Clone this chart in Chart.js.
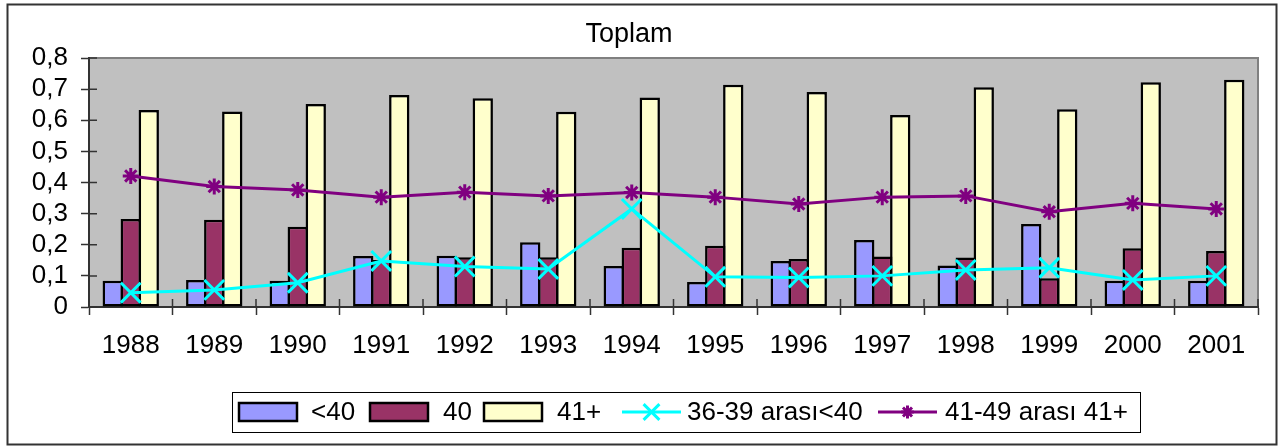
<!DOCTYPE html>
<html>
<head>
<meta charset="utf-8">
<script src="https://cdn.jsdelivr.net/npm/chart.js@4.4.0/dist/chart.umd.min.js"></script>
<style>
  html, body { margin: 0; padding: 0; background: #fff; }
  canvas { display: block; }
</style>
</head>
<body>
<canvas id="toplamChart" width="1285" height="448"></canvas>
<script>
const years = ['1988', '1989', '1990', '1991', '1992', '1993', '1994', '1995', '1996', '1997', '1998', '1999', '2000', '2001'];
const under40 = [0.084, 0.087, 0.084, 0.164, 0.165, 0.208, 0.132, 0.080, 0.148, 0.215, 0.133, 0.267, 0.084, 0.084];
const age40 = [0.283, 0.280, 0.258, 0.151, 0.160, 0.160, 0.190, 0.197, 0.154, 0.162, 0.159, 0.092, 0.189, 0.180];
const over41 = [0.633, 0.628, 0.652, 0.681, 0.671, 0.627, 0.673, 0.714, 0.691, 0.617, 0.706, 0.635, 0.722, 0.730];
const range3639 = [0.046, 0.055, 0.078, 0.148, 0.130, 0.122, 0.315, 0.097, 0.095, 0.100, 0.119, 0.126, 0.087, 0.100];
const range4149 = [0.421, 0.387, 0.376, 0.353, 0.369, 0.357, 0.368, 0.353, 0.331, 0.353, 0.357, 0.306, 0.333, 0.315];
const yTickLabels = ['0', '0,1', '0,2', '0,3', '0,4', '0,5', '0,6', '0,7', '0,8'];

const FONT = "'Liberation Sans', Arial, sans-serif";
const AXIS_COLOR = '#333';

// white page, outer frame and grey plot area
const frame = {
    id: 'frame',
    beforeDraw(chart) {
        const ctx = chart.ctx;
        const a = chart.chartArea;
        ctx.save();
        ctx.fillStyle = '#fff';
        ctx.fillRect(0, 0, chart.width, chart.height);
        ctx.strokeStyle = '#333';
        ctx.lineWidth = 2;
        ctx.strokeRect(7.5, 4.5, 1269, 440);
        ctx.fillStyle = '#c0c0c0';
        ctx.fillRect(a.left, a.top, a.right - a.left, a.bottom - a.top);
        ctx.strokeStyle = '#808080';
        ctx.beginPath();
        ctx.moveTo(a.left, a.top);
        ctx.lineTo(a.right, a.top);
        ctx.lineTo(a.right, a.bottom);
        ctx.stroke();
        ctx.restore();
    }
};

// Excel style ticks that cross the axis: draw the inner half
const crossTicks = {
    id: 'crossTicks',
    afterDatasetsDraw(chart) {
        const ctx = chart.ctx;
        const x = chart.scales.x;
        const y = chart.scales.y;
        const a = chart.chartArea;
        ctx.save();
        ctx.strokeStyle = AXIS_COLOR;
        ctx.lineWidth = 1.5;
        ctx.beginPath();
        const step = (x.right - x.left) / years.length;
        for (let i = 0; i <= years.length; i++) {
            const px = x.left + i * step;
            ctx.moveTo(px, a.bottom);
            ctx.lineTo(px, a.bottom - 8);
        }
        y.ticks.forEach((t, i) => {
            const py = y.getPixelForTick(i);
            ctx.moveTo(a.left, py);
            ctx.lineTo(a.left + 8, py);
        });
        ctx.stroke();
        ctx.restore();
    }
};

// boxed legend like the spreadsheet one
const boxLegend = {
    id: 'boxLegend',
    afterDraw(chart) {
        const ctx = chart.ctx;
        const itemX = [239, 370, 484, 622, 878];
        const textX = [311, 443, 557, 687, 945];
        const cy = 412;
        ctx.save();
        ctx.fillStyle = '#fff';
        ctx.fillRect(232, 392, 908, 41);
        ctx.strokeStyle = '#000';
        ctx.lineWidth = 1;
        ctx.strokeRect(232.5, 392.5, 908, 40);
        ctx.font = '26px ' + FONT;
        ctx.textBaseline = 'middle';
        ctx.textAlign = 'left';
        chart.data.datasets.forEach((ds, i) => {
            const x0 = itemX[i];
            if (ds.type === 'bar') {
                ctx.fillStyle = ds.backgroundColor;
                ctx.fillRect(x0, 403, 58, 18);
                ctx.strokeStyle = '#000';
                ctx.lineWidth = 2.5;
                ctx.strokeRect(x0, 403, 58, 18);
            } else {
                ctx.strokeStyle = ds.borderColor;
                ctx.lineWidth = ds.borderWidth;
                ctx.beginPath();
                ctx.moveTo(x0, cy);
                ctx.lineTo(x0 + 59, cy);
                ctx.stroke();
                ctx.lineWidth = ds.pointBorderWidth;
                Chart.helpers.drawPoint(ctx, {
                    pointStyle: ds.pointStyle,
                    radius: ds.pointRadius * 0.8,
                    borderWidth: ds.pointBorderWidth,
                    rotation: 0
                }, x0 + 29.5, cy);
            }
            ctx.fillStyle = '#000';
            ctx.fillText(ds.label, textX[i], cy + 1);
        });
        ctx.restore();
    }
};

const barStyle = {
    type: 'bar',
    borderColor: '#000',
    borderWidth: 2.5,
    borderSkipped: false,
    categoryPercentage: 0.647,
    barPercentage: 1.13,
    order: 2
};

const ctx = document.getElementById('toplamChart').getContext('2d');
new Chart(ctx, {
    data: {
        labels: years,
        datasets: [
            Object.assign({}, barStyle, { label: '<40', data: under40, backgroundColor: '#9999ff' }),
            Object.assign({}, barStyle, { label: '40', data: age40, backgroundColor: '#993366' }),
            Object.assign({}, barStyle, { label: '41+', data: over41, backgroundColor: '#ffffcc' }),
            {
                type: 'line',
                label: '36-39 arası<40',
                data: range3639,
                borderColor: '#00ffff',
                borderWidth: 3,
                pointStyle: 'crossRot',
                pointRadius: 14,
                pointBorderWidth: 3,
                pointBorderColor: '#00ffff',
                pointBackgroundColor: '#00ffff',
                tension: 0,
                order: 1
            },
            {
                type: 'line',
                label: '41-49 arası 41+',
                data: range4149,
                borderColor: '#800080',
                borderWidth: 3,
                pointStyle: 'star',
                pointRadius: 8,
                pointBorderWidth: 3,
                pointBorderColor: '#800080',
                pointBackgroundColor: '#800080',
                tension: 0,
                order: 0
            }
        ]
    },
    options: {
        responsive: false,
        animation: false,
        devicePixelRatio: 1,
        layout: {
            padding: { left: 0, right: 27, top: 0, bottom: 0 }
        },
        plugins: {
            legend: { display: false },
            tooltip: { enabled: false },
            title: {
                display: true,
                text: 'Toplam',
                color: '#000',
                font: { family: FONT, size: 27, weight: 'normal', lineHeight: 1.2 },
                padding: { top: 18, bottom: 7.6 }
            }
        },
        scales: {
            x: {
                offset: true,
                afterFit(scale) { scale.height = 141; },
                grid: {
                    offset: true,
                    drawOnChartArea: false,
                    tickLength: 8,
                    tickColor: AXIS_COLOR,
                    tickWidth: 1.5
                },
                border: { color: AXIS_COLOR, width: 2 },
                ticks: {
                    color: '#000',
                    padding: 15,
                    maxRotation: 0,
                    autoSkip: false,
                    font: { family: FONT, size: 26 }
                }
            },
            y: {
                min: 0,
                max: 0.8,
                afterFit(scale) { scale.width = 89; },
                grid: {
                    drawOnChartArea: false,
                    tickLength: 8,
                    tickColor: AXIS_COLOR,
                    tickWidth: 1.5
                },
                border: { color: AXIS_COLOR, width: 2 },
                ticks: {
                    stepSize: 0.1,
                    autoSkip: false,
                    color: '#000',
                    padding: 13,
                    font: { family: FONT, size: 26 },
                    callback: (value, index) => yTickLabels[index]
                }
            }
        }
    },
    plugins: [frame, crossTicks, boxLegend]
});
</script>
</body>
</html>
